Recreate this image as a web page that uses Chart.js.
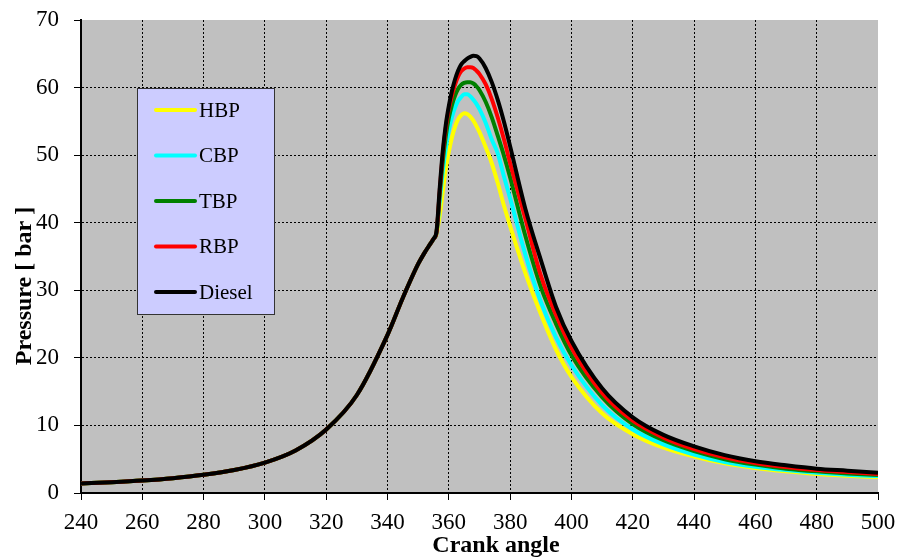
<!DOCTYPE html>
<html>
<head>
<meta charset="utf-8">
<script src="https://cdn.jsdelivr.net/npm/chart.js@4"></script>
<style>
  html, body { margin: 0; padding: 0; background: #ffffff; }
  #wrap { width: 900px; height: 560px; position: relative; }
</style>
</head>
<body>
<div id="wrap"><canvas id="c" width="900" height="560"></canvas></div>
<script>
// Crank angle samples (degrees)
const crankAngle = [240,250,260,270,280,290,300,310,320,330,340,345,350,352,354,355,356,357,358,359,360,361,362,363,364,365,366,367,368,369,370,372,374,376,378,380,385,390,395,400,410,420,430,440,450,460,470,480,490,500];

// Common compression part (240..355)
const compression = [1.4,1.6,1.85,2.2,2.7,3.4,4.5,6.3,9.4,14.5,23.4,28.9,33.9,35.5,36.9,37.6];

// Combustion/expansion parts (356..500) for each fuel
const hbpTail    = [38.3,41.0,44.5,48.0,50.5,52.6,54.2,55.3,55.9,56.2,56.1,55.7,55.1,54.3,53.4,51.2,48.8,45.8,42.5,39.5,32.5,26.5,21.2,17.2,11.8,8.7,6.7,5.4,4.4,3.7,3.2,2.8,2.55,2.35];
const cbpTail    = [38.5,43.0,47.5,51.0,53.7,55.6,57.0,58.0,58.6,59.0,59.0,58.7,58.2,57.6,56.8,54.8,52.3,50.2,46.8,43.6,35.2,28.3,23.0,18.9,13.0,9.4,7.2,5.7,4.6,3.9,3.4,3.0,2.7,2.5];
const tbpTail    = [38.6,44.0,49.0,52.8,55.5,57.4,58.8,59.8,60.4,60.7,60.8,60.8,60.6,60.2,59.6,57.9,55.6,52.8,49.9,46.7,38.0,30.5,25.0,20.4,14.2,10.2,7.8,6.2,5.0,4.2,3.6,3.2,2.9,2.65];
const rbpTail    = [38.6,44.5,50.0,54.0,56.8,58.8,60.4,61.6,62.4,62.8,63.0,63.0,62.9,62.5,62.0,60.5,58.3,55.5,52.3,48.8,40.5,32.2,26.3,21.5,14.8,10.7,8.2,6.5,5.3,4.45,3.85,3.4,3.1,2.8];
const dieselTail = [38.8,45.0,50.5,54.5,57.3,59.5,61.2,62.5,63.4,63.9,64.3,64.55,64.7,64.65,64.3,62.9,60.8,58.1,54.9,51.3,42.0,34.5,27.5,22.5,15.5,11.2,8.6,6.9,5.6,4.7,4.1,3.6,3.3,3.0];

const seriesNames  = ["HBP","CBP","TBP","RBP","Diesel"];
const seriesColors = ["#FFFF00","#00FFFF","#008000","#FF0000","#000000"];
const seriesTails  = [hbpTail, cbpTail, tbpTail, rbpTail, dieselTail];

const xTitle = "Crank angle";
const yTitle = "Pressure [ bar ]";
const xTicksMin = 240, xTicksMax = 500, xStep = 20;
const yTicksMin = 0, yTicksMax = 70, yStep = 10;

function buildPoints(tail) {
  const full = compression.concat(tail);
  return crankAngle.map((x, i) => ({ x: x, y: full[i] }));
}

const datasets = seriesNames.map((name, i) => ({
  label: name,
  data: buildPoints(seriesTails[i]),
  borderColor: seriesColors[i],
  backgroundColor: seriesColors[i],
  borderWidth: 4,
  pointRadius: 0,
  cubicInterpolationMode: 'monotone',
  fill: false,
  order: seriesNames.length - i
}));

const serif = "'Liberation Serif', 'Times New Roman', serif";

const plotBg = {
  id: 'plotBg',
  beforeDraw(chart) {
    const a = chart.chartArea, ctx = chart.ctx;
    ctx.save();
    ctx.fillStyle = '#C0C0C0';
    ctx.fillRect(a.left, a.top, a.right - a.left, a.bottom - a.top);
    ctx.restore();
  }
};

const titlesAndLegend = {
  id: 'titlesAndLegend',
  afterDraw(chart) {
    const ctx = chart.ctx;
    ctx.save();
    // axis titles
    ctx.fillStyle = '#000';
    ctx.font = 'bold 24px ' + serif;
    ctx.textAlign = 'center';
    ctx.textBaseline = 'alphabetic';
    ctx.fillText(xTitle, 496, 552);
    ctx.save();
    ctx.translate(31, 286);
    ctx.rotate(-Math.PI / 2);
    ctx.fillText(yTitle, 0, 0);
    ctx.restore();

    // legend box
    const x0 = 137.5, y0 = 88.5, w = 137, h = 226;
    ctx.fillStyle = '#CCCCFF';
    ctx.fillRect(x0, y0, w, h);
    ctx.strokeStyle = '#333333';
    ctx.lineWidth = 1;
    ctx.strokeRect(x0, y0, w, h);
    ctx.font = '21px ' + serif;
    ctx.textBaseline = 'middle';
    ctx.textAlign = 'left';
    ctx.lineCap = 'round';
    seriesNames.forEach((name, i) => {
      const y = 110 + i * 45.5;
      ctx.strokeStyle = seriesColors[i];
      ctx.lineWidth = 4;
      ctx.beginPath();
      ctx.moveTo(156, y);
      ctx.lineTo(195, y);
      ctx.stroke();
      ctx.fillStyle = '#000000';
      ctx.fillText(name, 199, y + 1);
    });
    ctx.restore();
  }
};

const hideAt = (v) => (c) => (c.tick && c.tick.value === v) ? 'rgba(0,0,0,0)' : '#000';

new Chart(document.getElementById('c'), {
  type: 'line',
  data: { datasets },
  options: {
    responsive: false,
    animation: false,
    layout: { autoPadding: false, padding: { top: 20, right: 22, left: 0, bottom: 0 } },
    plugins: { legend: { display: false }, tooltip: { enabled: false } },
    scales: {
      x: {
        type: 'linear',
        min: xTicksMin, max: xTicksMax,
        afterFit(s) { s.height = 67; s.paddingLeft = 0; s.paddingRight = 0; },
        ticks: { stepSize: xStep, color: '#000', font: { family: serif, size: 23 }, padding: 9, maxRotation: 0 },
        grid: { color: hideAt(xTicksMax), tickColor: '#000', lineWidth: 1, tickLength: 7, tickBorderDash: [] },
        border: { color: '#000', width: 2, dash: [2, 2] }
      },
      y: {
        min: yTicksMin, max: yTicksMax,
        afterFit(s) { s.width = 81; s.paddingTop = 0; s.paddingBottom = 0; },
        ticks: { stepSize: yStep, color: '#000', font: { family: serif, size: 23 }, padding: 15 },
        grid: { color: hideAt(yTicksMax), tickColor: '#000', lineWidth: 1, tickLength: 7, tickBorderDash: [] },
        border: { color: '#000', width: 2, dash: [2, 2] }
      }
    }
  },
  plugins: [plotBg, titlesAndLegend]
});
</script>
</body>
</html>
